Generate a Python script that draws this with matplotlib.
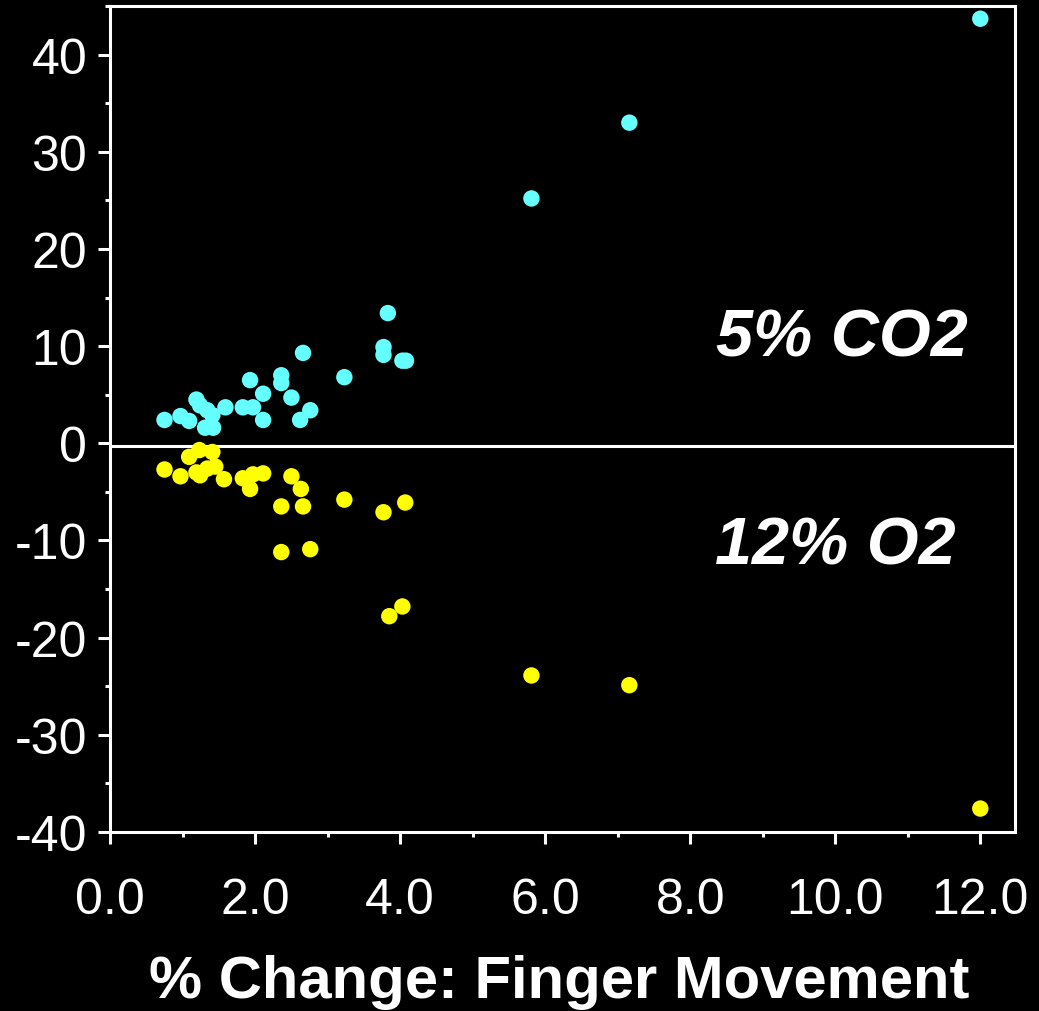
import matplotlib.pyplot as plt
from matplotlib.ticker import MultipleLocator

plt.rcParams['font.family'] = ['Liberation Sans', 'DejaVu Sans']

# 5% CO2 (cyan, above zero)
co2_x = [0.75, 0.97, 1.09, 1.19, 1.24, 1.34, 1.41, 1.31, 1.42, 1.59, 1.83, 1.97, 1.93,
         2.11, 2.11, 2.36, 2.36, 2.50, 2.66, 2.62, 2.76, 3.23, 3.77, 3.77, 4.03, 4.08,
         3.83, 5.81, 7.16, 12.0]
co2_y = [2.4, 2.8, 2.3, 4.5, 3.9, 3.4, 2.9, 1.6, 1.6, 3.7, 3.7, 3.7, 6.5,
         5.1, 2.4, 7.0, 6.2, 4.7, 9.3, 2.4, 3.4, 6.8, 9.9, 9.1, 8.5, 8.5,
         13.4, 25.2, 33.0, 43.7]

# 12% O2 (yellow, below zero)
o2_x = [0.75, 0.97, 1.09, 1.23, 1.41, 1.19, 1.24, 1.34, 1.45, 1.57, 1.83, 1.93, 1.97,
        2.11, 2.50, 2.63, 2.36, 2.66, 3.23, 3.77, 4.07, 2.36, 2.76, 3.85, 4.03,
        5.81, 7.16, 12.0]
o2_y = [-2.7, -3.4, -1.4, -0.7, -0.9, -3.0, -3.3, -2.6, -2.4, -3.7, -3.6, -4.7, -3.2,
        -3.1, -3.4, -4.7, -6.5, -6.5, -5.8, -7.1, -6.1, -11.2, -10.9, -17.8, -16.8,
        -23.9, -24.9, -37.6]

fig = plt.figure(figsize=(10.39, 10.12), dpi=100, facecolor='black')
ax = fig.add_axes([0.106, 0.177, 0.871, 0.816], facecolor='black')

ax.axhline(-0.3, color='white', lw=2.2, zorder=1)
ax.scatter(co2_x, co2_y, s=140, color='#66ffff', edgecolors='none', zorder=3)
ax.scatter(o2_x, o2_y, s=140, color='#ffff00', edgecolors='none', zorder=3)

ax.set_xlim(0, 12.48)
ax.set_ylim(-40, 45)
ax.xaxis.set_major_locator(MultipleLocator(2))
ax.xaxis.set_minor_locator(MultipleLocator(1))
ax.yaxis.set_major_locator(MultipleLocator(10))
ax.yaxis.set_minor_locator(MultipleLocator(5))
ax.xaxis.set_major_formatter(lambda v, p: f'{v:.1f}')
ax.yaxis.set_major_formatter(lambda v, p: f'{v:.0f}')

for s in ax.spines.values():
    s.set_color('white')
    s.set_linewidth(2.2)

ax.tick_params(which='both', colors='white', width=2.2, direction='out')
ax.tick_params(which='major', length=8.5, labelsize=36)
ax.tick_params(which='minor', length=3.8)
ax.tick_params(axis='x', which='major', pad=24)
ax.tick_params(axis='y', which='major', pad=8)

fig.text(559 / 1039, 14 / 1012, '% Change: Finger Movement', color='white',
         fontsize=43, fontweight='bold', ha='center', va='baseline')

ax.text(11.83, 9.0, '5% CO2', color='white', fontsize=48, fontweight='bold',
        style='italic', ha='right', va='baseline')
ax.text(11.66, -12.4, '12% O2', color='white', fontsize=48, fontweight='bold',
        style='italic', ha='right', va='baseline')

fig.savefig('out.png', dpi=100, facecolor='black')
